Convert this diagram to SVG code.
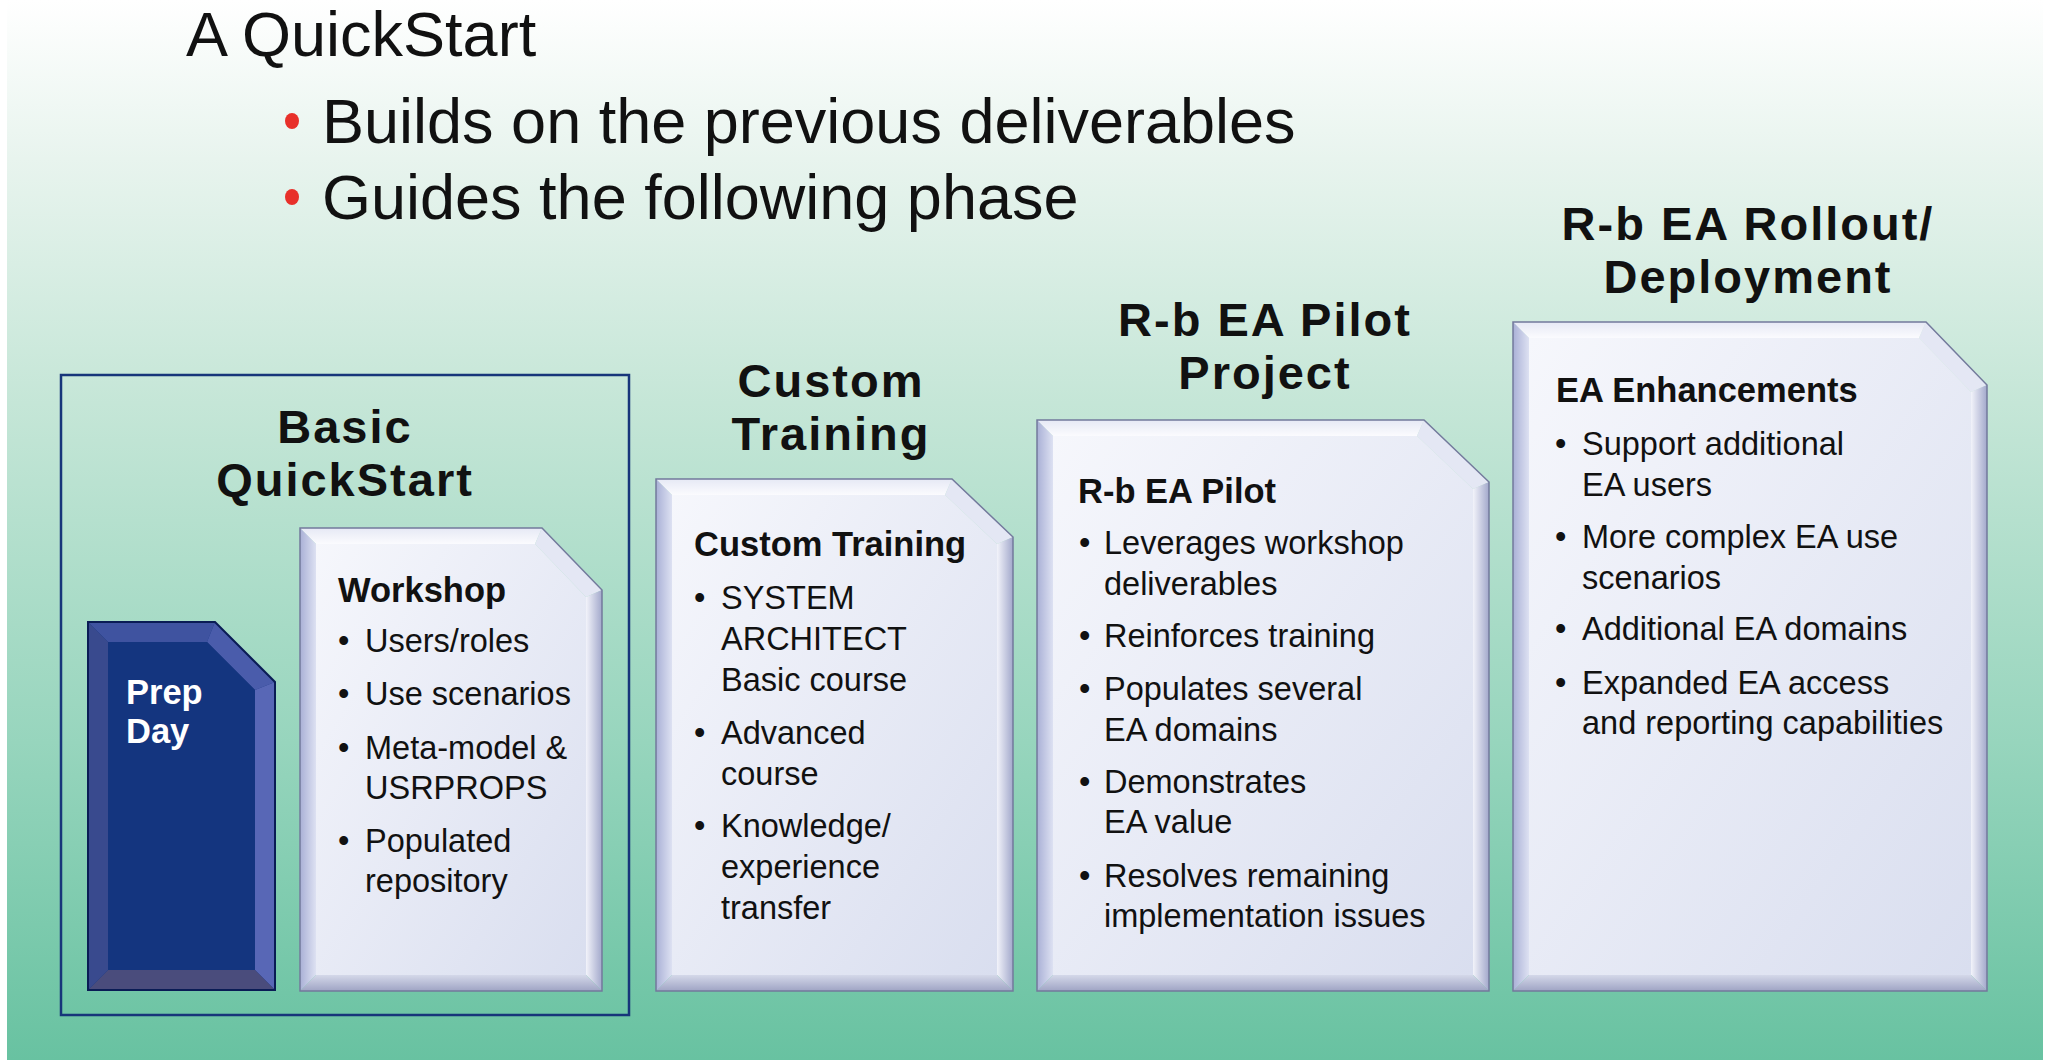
<svg xmlns="http://www.w3.org/2000/svg" width="2045" height="1060" viewBox="0 0 2045 1060">
<defs>
<linearGradient id="bg" x1="0" y1="0" x2="0" y2="1">
<stop offset="0" stop-color="#ffffff"/>
<stop offset="0.15" stop-color="#e8f4ee"/>
<stop offset="0.38" stop-color="#c5e6d7"/>
<stop offset="0.7" stop-color="#97d5bd"/>
<stop offset="1" stop-color="#68c2a1"/>
</linearGradient>
<linearGradient id="face" x1="0" y1="0" x2="1" y2="1">
<stop offset="0" stop-color="#f6f7fc"/>
<stop offset="1" stop-color="#d9deef"/>
</linearGradient>
<linearGradient id="rightF" x1="0" y1="0" x2="1" y2="0">
<stop offset="0" stop-color="#f2f3fa"/>
<stop offset="1" stop-color="#a2a8cb"/>
</linearGradient>
<linearGradient id="leftF" x1="0" y1="0" x2="1" y2="0">
<stop offset="0" stop-color="#a9b0d6"/>
<stop offset="1" stop-color="#dde1f2"/>
</linearGradient>
<linearGradient id="bottomF" x1="0" y1="0" x2="0" y2="1">
<stop offset="0" stop-color="#d4d8e9"/>
<stop offset="1" stop-color="#9fa4c4"/>
</linearGradient>
<linearGradient id="topF" x1="0" y1="0" x2="0" y2="1">
<stop offset="0" stop-color="#e6e9f5"/>
<stop offset="1" stop-color="#fbfbfe"/>
</linearGradient>
</defs>
<style>
.t{font-family:"Liberation Sans",Arial,sans-serif;fill:#111}
.big{font-size:63px}
.ph{font-size:47px;font-weight:bold;text-anchor:middle;letter-spacing:2px}
.bh{font-size:34.5px;font-weight:bold}
.bt{font-size:32.5px}
.w{fill:#ffffff}
.out{stroke:#737a9c;stroke-width:1.5;fill:none}
.top{fill:url(#topF)}
.dia{fill:#e4e7f4}
.rgt{fill:url(#rightF)}
.bot{fill:url(#bottomF)}
.lft{fill:url(#leftF)}
.fc{fill:url(#face)}
</style>
<rect x="0" y="0" width="2045" height="1060" fill="#ffffff"/>
<rect x="7" y="0" width="2036" height="1060" fill="url(#bg)"/>

<g id="header">
<text class="t big" x="186" y="56">A QuickStart</text>
<ellipse cx="292" cy="121" rx="7" ry="8" fill="#e8302a"/>
<text class="t big" x="322" y="143">Builds on the previous deliverables</text>
<ellipse cx="292" cy="197" rx="7" ry="8" fill="#e8302a"/>
<text class="t big" x="322" y="219">Guides the following phase</text>
</g>

<g id="basic-quickstart">
<rect x="61" y="375" width="568" height="640" fill="none" stroke="#17357a" stroke-width="2.5"/>
<text class="t ph"><tspan x="345" y="443">Basic</tspan><tspan x="345" y="496">QuickStart</tspan></text>
</g>

<g id="prep-day">
<polygon points="88,622 215,622 275,682 275,990 88,990" fill="#14357f"/>
<polygon points="88,622 215,622 207,642 108,642" fill="#3f53a0"/>
<polygon points="215,622 275,682 255,690 207,642" fill="#4a5cab"/>
<polygon points="275,682 275,990 255,970 255,690" fill="#5867b6"/>
<polygon points="88,990 275,990 255,970 108,970" fill="#4a4c7c"/>
<polygon points="88,622 108,642 108,970 88,990" fill="#394a8e"/>
<polygon points="108,642 207,642 255,690 255,970 108,970" fill="#14357f"/>
<polygon points="88,622 215,622 275,682 275,990 88,990" fill="none" stroke="#0a1c55" stroke-width="2"/>
<text class="t bh w"><tspan x="126" y="704">Prep</tspan><tspan x="126" y="743">Day</tspan></text>
</g>

<g id="workshop">
<polygon class="top" points="300,528 542,528 535,544 316,544"/>
<polygon class="dia" points="542,528 602,590 586,597 535,544"/>
<polygon class="rgt" points="602,590 602,991 586,975 586,597"/>
<polygon class="bot" points="300,991 602,991 586,975 316,975"/>
<polygon class="lft" points="300,528 316,544 316,975 300,991"/>
<polygon class="fc" points="316,544 535,544 586,597 586,975 316,975"/>
<polygon class="out" points="300,528 542,528 602,590 602,991 300,991"/>
<text class="t bh" x="338" y="602">Workshop</text>
<text class="t bt" x="338" y="652">•</text><text class="t bt" x="365" y="652">Users/roles</text>
<text class="t bt" x="338" y="705">•</text><text class="t bt" x="365" y="705">Use scenarios</text>
<text class="t bt" x="338" y="759">•</text><text class="t bt" x="365" y="759">Meta-model &amp;</text>
<text class="t bt" x="365" y="799">USRPROPS</text>
<text class="t bt" x="338" y="852">•</text><text class="t bt" x="365" y="852">Populated</text>
<text class="t bt" x="365" y="892">repository</text>
</g>

<g id="custom-training">
<text class="t ph"><tspan x="831" y="397">Custom</tspan><tspan x="831" y="450">Training</tspan></text>
<polygon class="top" points="656,479 952,479 945,495 672,495"/>
<polygon class="dia" points="952,479 1013,537 997,544 945,495"/>
<polygon class="rgt" points="1013,537 1013,991 997,975 997,544"/>
<polygon class="bot" points="656,991 1013,991 997,975 672,975"/>
<polygon class="lft" points="656,479 672,495 672,975 656,991"/>
<polygon class="fc" points="672,495 945,495 997,544 997,975 672,975"/>
<polygon class="out" points="656,479 952,479 1013,537 1013,991 656,991"/>
<text class="t bh" x="694" y="556">Custom Training</text>
<text class="t bt" x="694" y="609">•</text><text class="t bt" x="721" y="609">SYSTEM</text>
<text class="t bt" x="721" y="650">ARCHITECT</text>
<text class="t bt" x="721" y="691">Basic course</text>
<text class="t bt" x="694" y="744">•</text><text class="t bt" x="721" y="744">Advanced</text>
<text class="t bt" x="721" y="785">course</text>
<text class="t bt" x="694" y="837">•</text><text class="t bt" x="721" y="837">Knowledge/</text>
<text class="t bt" x="721" y="878">experience</text>
<text class="t bt" x="721" y="919">transfer</text>
</g>

<g id="pilot-project">
<text class="t ph"><tspan x="1265" y="336">R-b EA Pilot</tspan><tspan x="1265" y="389">Project</tspan></text>
<polygon class="top" points="1037,420 1424,420 1417,436 1053,436"/>
<polygon class="dia" points="1424,420 1489,482 1473,489 1417,436"/>
<polygon class="rgt" points="1489,482 1489,991 1473,975 1473,489"/>
<polygon class="bot" points="1037,991 1489,991 1473,975 1053,975"/>
<polygon class="lft" points="1037,420 1053,436 1053,975 1037,991"/>
<polygon class="fc" points="1053,436 1417,436 1473,489 1473,975 1053,975"/>
<polygon class="out" points="1037,420 1424,420 1489,482 1489,991 1037,991"/>
<text class="t bh" x="1078" y="503">R-b EA Pilot</text>
<text class="t bt" x="1079" y="554">•</text><text class="t bt" x="1104" y="554">Leverages workshop</text>
<text class="t bt" x="1104" y="595">deliverables</text>
<text class="t bt" x="1079" y="647">•</text><text class="t bt" x="1104" y="647">Reinforces training</text>
<text class="t bt" x="1079" y="700">•</text><text class="t bt" x="1104" y="700">Populates several</text>
<text class="t bt" x="1104" y="741">EA domains</text>
<text class="t bt" x="1079" y="793">•</text><text class="t bt" x="1104" y="793">Demonstrates</text>
<text class="t bt" x="1104" y="833">EA value</text>
<text class="t bt" x="1079" y="887">•</text><text class="t bt" x="1104" y="887">Resolves remaining</text>
<text class="t bt" x="1104" y="927">implementation issues</text>
</g>

<g id="rollout-deployment">
<text class="t ph"><tspan x="1748" y="240">R-b EA Rollout/</tspan><tspan x="1748" y="293">Deployment</tspan></text>
<polygon class="top" points="1513,322 1926,322 1919,338 1529,338"/>
<polygon class="dia" points="1926,322 1987,385 1971,392 1919,338"/>
<polygon class="rgt" points="1987,385 1987,991 1971,975 1971,392"/>
<polygon class="bot" points="1513,991 1987,991 1971,975 1529,975"/>
<polygon class="lft" points="1513,322 1529,338 1529,975 1513,991"/>
<polygon class="fc" points="1529,338 1919,338 1971,392 1971,975 1529,975"/>
<polygon class="out" points="1513,322 1926,322 1987,385 1987,991 1513,991"/>
<text class="t bh" x="1556" y="402">EA Enhancements</text>
<text class="t bt" x="1555" y="455">•</text><text class="t bt" x="1582" y="455">Support additional</text>
<text class="t bt" x="1582" y="496">EA users</text>
<text class="t bt" x="1555" y="548">•</text><text class="t bt" x="1582" y="548">More complex EA use</text>
<text class="t bt" x="1582" y="589">scenarios</text>
<text class="t bt" x="1555" y="640">•</text><text class="t bt" x="1582" y="640">Additional EA domains</text>
<text class="t bt" x="1555" y="694">•</text><text class="t bt" x="1582" y="694">Expanded EA access</text>
<text class="t bt" x="1582" y="734">and reporting capabilities</text>
</g>

<g id="connectors"></g>
</svg>
